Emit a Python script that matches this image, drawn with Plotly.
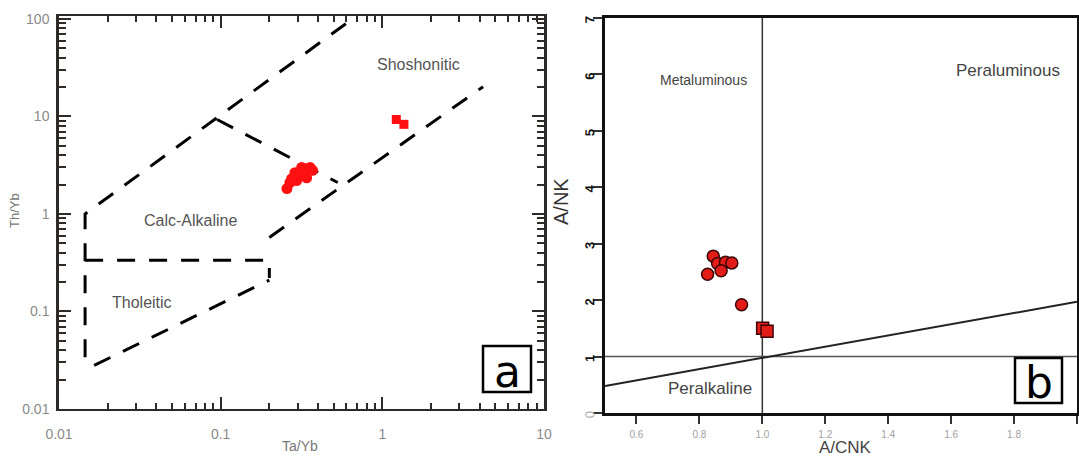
import plotly.graph_objects as go

# ---------------- Panel (a): Th/Yb vs Ta/Yb ----------------
ta_yb_circles = [0.257, 0.268, 0.275, 0.288, 0.295, 0.302, 0.317, 0.330, 0.340, 0.357, 0.370]
th_yb_circles = [1.82, 2.10, 2.30, 2.65, 2.20, 2.50, 3.00, 2.90, 2.35, 3.00, 2.80]
ta_yb_squares = [1.22, 1.36]
th_yb_squares = [9.3, 8.3]

# Field boundaries (Ta/Yb, Th/Yb vertices)
calc_alk_upper_x = [0.0145, 0.0145, 0.68]
calc_alk_upper_y = [0.034, 1.0, 105]
calc_shosh_x = [0.095, 0.53]
calc_shosh_y = [9.3, 2.1]
lower_bound_x = [0.2, 4.2]
lower_bound_y = [0.575, 20.2]
thol_box_x = [0.0145, 0.2, 0.2]
thol_box_y = [0.335, 0.335, 0.22]
thol_base_x = [0.0165, 0.2]
thol_base_y = [0.028, 0.21]

a_xticks = [0.01, 0.1, 1, 10]
a_xlabels = ["0.01", "0.1", "1", "10"]
a_yticks = [0.01, 0.1, 1, 10, 100]
a_ylabels = ["0.01", "0.1", "1", "10", "100"]
a_x_minor = [m * 10.0 ** e for e in (-2, -1, 0) for m in range(2, 10)]
a_y_minor = [m * 10.0 ** e for e in (-2, -1, 0, 1) for m in range(2, 10)]

# ---------------- Panel (b): A/NK vs A/CNK ----------------
a_cnk_circles = [0.844, 0.858, 0.883, 0.903, 0.869, 0.826, 0.934]
a_nk_circles = [2.78, 2.65, 2.67, 2.66, 2.52, 2.46, 1.92]
a_cnk_squares = [1.001, 1.015]
a_nk_squares = [1.50, 1.45]

divider_x = [1.0, 1.0]
divider_y = [0, 7]
horizontal_x = [0.5, 2.0]
horizontal_y = [1.0, 1.0]
diagonal_x = [0.5, 2.0]
diagonal_y = [0.48, 1.97]

b_xticks = [0.6, 0.8, 1.0, 1.2, 1.4, 1.6, 1.8, 2.0]
b_xlabels = ["0.6", "0.8", "1.0", "1.2", "1.4", "1.6", "1.8", "2.0"]
b_yticks = [0, 1, 2, 3, 4, 5, 6, 7]
b_ylabels = ["<span style='color:#b0b0b0;font-weight:normal'>0</span>",
             "1", "2", "3", "4", "5", "6", "7"]

W, H = 1079, 457


def px(x):
    return x / W


def py(y):
    return 1 - y / H


FONT = "Liberation Sans"
dash = "18px,14px"
frame_a = "#2e2a28"

fig = go.Figure()

# Panel (a) boundaries
for xs, ys in [(calc_alk_upper_x, calc_alk_upper_y), (calc_shosh_x, calc_shosh_y),
               (lower_bound_x, lower_bound_y), (thol_box_x, thol_box_y),
               (thol_base_x, thol_base_y)]:
    fig.add_trace(go.Scatter(x=xs, y=ys, mode="lines", xaxis="x", yaxis="y",
                             line=dict(color="black", width=3, dash=dash),
                             hoverinfo="skip"))

fig.add_trace(go.Scatter(x=ta_yb_circles, y=th_yb_circles, mode="markers",
                         xaxis="x", yaxis="y",
                         marker=dict(symbol="circle", size=11, color="#ff1010",
                                     line=dict(width=0))))
fig.add_trace(go.Scatter(x=ta_yb_squares, y=th_yb_squares, mode="markers",
                         xaxis="x", yaxis="y",
                         marker=dict(symbol="square", size=9, color="#ff1010",
                                     line=dict(width=0))))

# Empty trace that carries the top/right tick frame of panel (a)
fig.add_trace(go.Scatter(x=[None], y=[None], mode="markers", xaxis="x3", yaxis="y3",
                         showlegend=False, hoverinfo="skip"))

# Panel (b) lines
for xs, ys, w, c in [(divider_x, divider_y, 1.5, "#333333"),
                     (horizontal_x, horizontal_y, 1.5, "#555555"),
                     (diagonal_x, diagonal_y, 2, "#222222")]:
    fig.add_trace(go.Scatter(x=xs, y=ys, mode="lines", xaxis="x2", yaxis="y2",
                             line=dict(color=c, width=w), hoverinfo="skip"))

fig.add_trace(go.Scatter(x=a_cnk_circles, y=a_nk_circles, mode="markers",
                         xaxis="x2", yaxis="y2",
                         marker=dict(symbol="circle", size=12, color="#e41c17",
                                     line=dict(width=1.5, color="#3a0505"))))
fig.add_trace(go.Scatter(x=a_cnk_squares, y=a_nk_squares, mode="markers",
                         xaxis="x2", yaxis="y2",
                         marker=dict(symbol="square", size=12, color="#e41c17",
                                     line=dict(width=1.5, color="#3a0505"))))

log_x_common = dict(type="log", range=[-2, 1], automargin=False,
                    ticks="inside", ticklen=12, tickwidth=2, tickcolor=frame_a,
                    tickvals=a_xticks,
                    minor=dict(ticks="inside", ticklen=6, tickwidth=2, tickcolor=frame_a,
                               tickvals=a_x_minor, showgrid=False),
                    showgrid=False, zeroline=False)
log_y_common = dict(type="log", range=[-2, 2.03], automargin=False,
                    ticks="inside", ticklen=12, tickwidth=2, tickcolor=frame_a,
                    tickvals=a_yticks,
                    minor=dict(ticks="inside", ticklen=7, tickwidth=2, tickcolor=frame_a,
                               tickvals=a_y_minor, showgrid=False),
                    showgrid=False, zeroline=False)

fig.update_layout(
    width=W, height=H, margin=dict(l=0, r=0, t=0, b=0),
    paper_bgcolor="white", plot_bgcolor="white", showlegend=False,
    xaxis=dict(domain=[px(59), px(544)], anchor="y",
               showline=True, linecolor=frame_a, linewidth=2, mirror=True,
               ticktext=a_xlabels,
               tickfont=dict(family=FONT, size=14, color="#8a8a8a"),
               ticklabelstandoff=11, **log_x_common),
    yaxis=dict(domain=[py(409), py(16)], anchor="x",
               showline=True, linecolor=frame_a, linewidth=2.5, mirror=True,
               ticktext=a_ylabels,
               tickfont=dict(family=FONT, size=14, color="#8a8a8a"),
               ticklabelstandoff=4, **log_y_common),
    xaxis3=dict(overlaying="x", side="top", anchor="y3", showline=False,
                showticklabels=False, **log_x_common),
    yaxis3=dict(overlaying="y", side="right", anchor="x3", showline=False,
                showticklabels=False, **log_y_common),
    xaxis2=dict(domain=[px(605), px(1077)], range=[0.5, 2.0], anchor="y2",
                automargin=False,
                showline=True, linecolor="#111111", linewidth=2.5, mirror=True,
                ticks="outside", ticklen=8, tickwidth=1.5, tickcolor="#333333",
                tickvals=b_xticks, ticktext=b_xlabels,
                tickfont=dict(family=FONT, size=10, color="#a0a0a0"),
                ticklabelstandoff=2,
                showgrid=False, zeroline=False),
    yaxis2=dict(domain=[py(413), py(18)], range=[0, 7], anchor="x2",
                automargin=False,
                showline=True, linecolor="#111111", linewidth=2.5, mirror=True,
                ticks="outside", ticklen=9, tickwidth=1.5, tickcolor="#333333",
                tickvals=b_yticks, ticktext=b_ylabels, tickangle=-89.9,
                tickfont=dict(family=FONT, size=13, color="#111111", weight="bold"),
                ticklabelstandoff=3,
                showgrid=False, zeroline=False),
)

labels = [
    # text, x px, y px, size, color
    ("Shoshonitic", 418, 65, 16, "#555555"),
    ("Calc-Alkaline", 190, 220, 16, "#555555"),
    ("Tholeitic", 142, 302, 16, "#555555"),
    ("Metaluminous", 703, 80, 14, "#444444"),
    ("Peraluminous", 1008, 70, 17, "#444444"),
    ("Peralkaline", 710, 388, 17, "#444444"),
    ("Ta/Yb", 300, 446, 14, "#777777"),
    ("A/CNK", 845, 447, 17, "#444444"),
]
for text, x, y, size, color in labels:
    fig.add_annotation(text=text, x=px(x), y=py(y), xref="paper", yref="paper",
                       showarrow=False, xanchor="center", yanchor="middle",
                       font=dict(family=FONT, size=size, color=color))

fig.add_annotation(text="Th/Yb", x=px(14), y=py(211), xref="paper", yref="paper",
                   showarrow=False, textangle=-90, xanchor="center", yanchor="middle",
                   font=dict(family=FONT, size=13, color="#777777"))
fig.add_annotation(text="A/NK", x=px(561), y=py(202), xref="paper", yref="paper",
                   showarrow=False, textangle=-90, xanchor="center", yanchor="middle",
                   font=dict(family=FONT, size=20, color="#333333"))

# Panel tags in boxes
for tag, x0, y0, x1, y1 in [("a", 483, 346, 531, 392), ("b", 1015, 358, 1062, 403)]:
    fig.add_shape(type="rect", xref="paper", yref="paper",
                  x0=px(x0), x1=px(x1), y0=py(y1), y1=py(y0),
                  line=dict(color="black", width=2.5), fillcolor="white")
    fig.add_annotation(text=tag, x=px((x0 + x1) / 2), y=py((y0 + y1) / 2 + 2),
                       xref="paper", yref="paper", showarrow=False,
                       xanchor="center", yanchor="middle",
                       font=dict(family="DejaVu Sans", size=44, color="black"))

fig.write_html("out.html")
